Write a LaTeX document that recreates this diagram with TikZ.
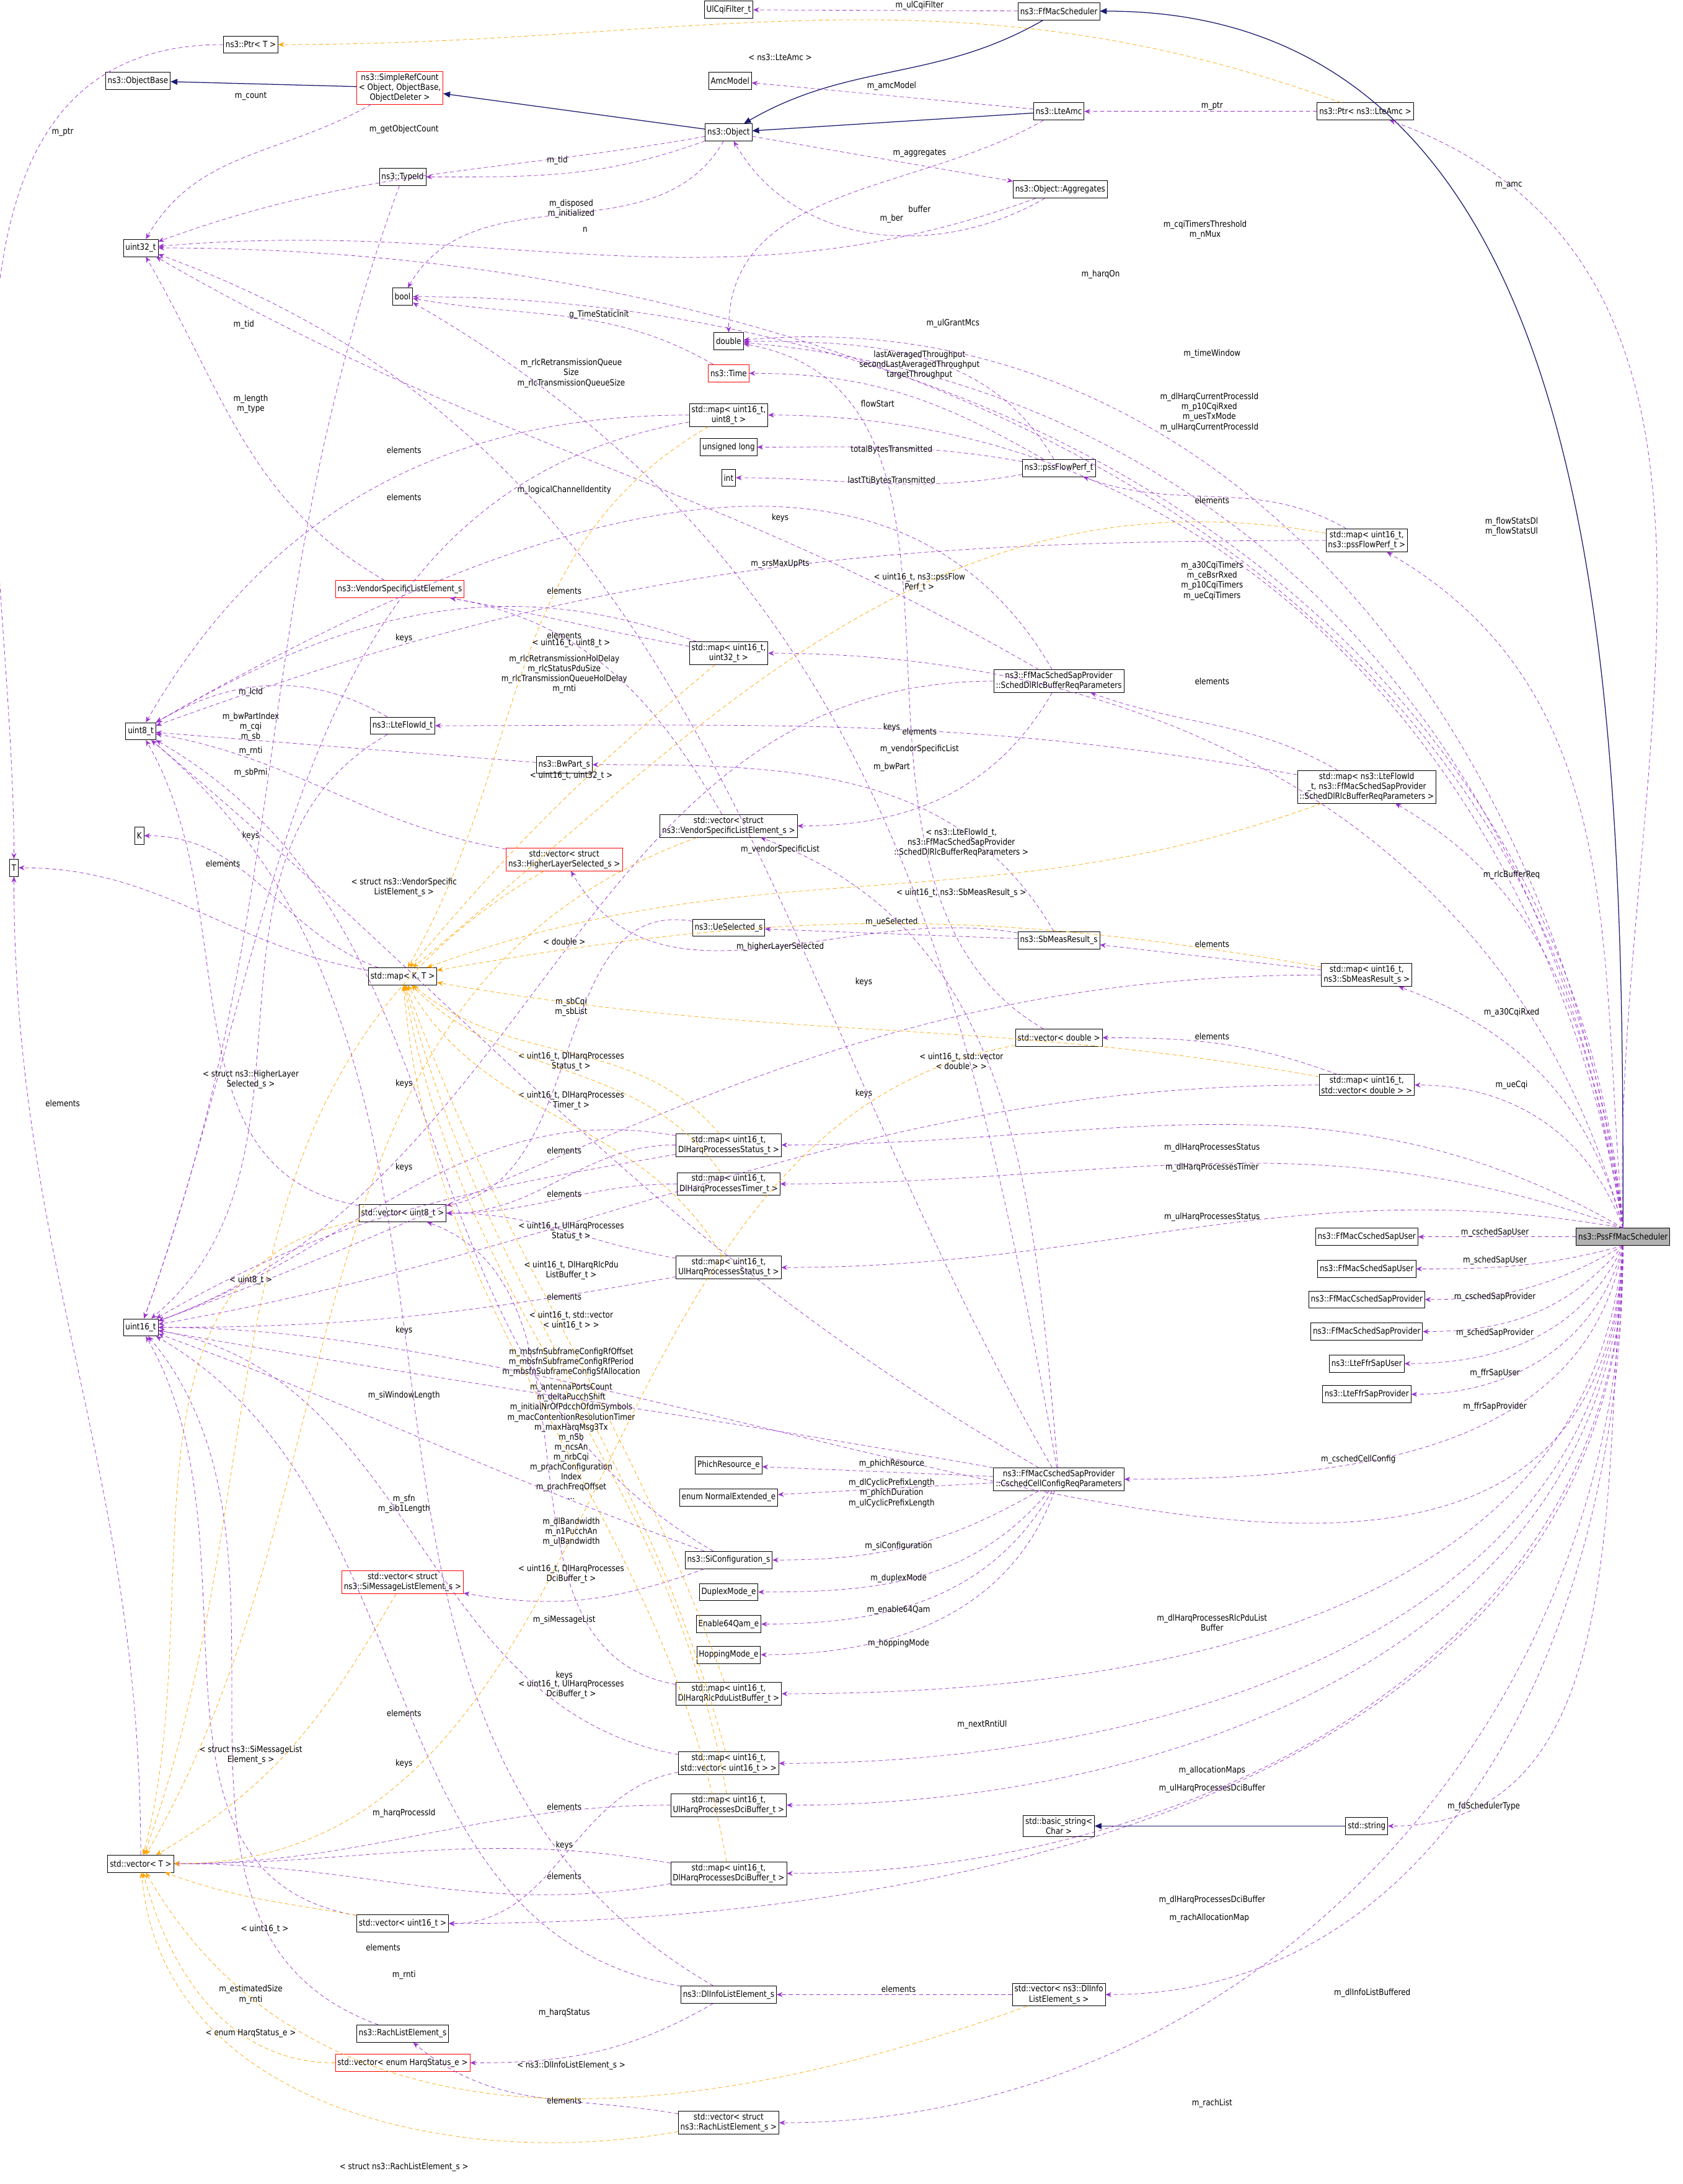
\documentclass[border=0pt]{standalone}
\usepackage{fontspec}
\usepackage{graphicx}
\usepackage{tikz}
\setmainfont{DejaVu Sans}[FakeStretch=0.86]
\usetikzlibrary{arrows.meta}
\definecolor{navyline}{HTML}{191970}
\definecolor{usecol}{HTML}{9A32CD}
\definecolor{tmplcol}{HTML}{FFA500}
\newcommand{\dfont}{\fontsize{2.2}{2.55}\selectfont}
\tikzset{
  cls/.style={draw=black, fill=white, font=\dfont, line width=0.12pt, inner sep=0.55pt, minimum height=0.155cm, align=center},
  redcls/.style={cls, draw=red},
  inh/.style={-{Triangle[length=1.75pt,width=1.5pt]}, draw=navyline, line width=0.2pt},
  usage/.style={-{Stealth[length=1.5pt,width=1.25pt]}, draw=usecol, line width=0.12pt, dash pattern=on 1pt off 0.75pt},
  tmpl/.style={-{Stealth[length=1.5pt,width=1.25pt]}, draw=tmplcol, line width=0.12pt, dash pattern=on 1pt off 0.75pt},
  lbl/.style={font=\dfont, align=center, inner sep=0.1pt}
}
\begin{document}
\scalebox{4}{%
\begin{tikzpicture}[x=0.0125cm,y=-0.0125cm]
\useasboundingbox[fill=white] (0,0) rectangle (1208,1568);

% classes
\node[cls] (ulcqi) at (523,7) {UlCqiFilter\_t};
\node[cls] (ffmac) at (760,8) {ns3::FfMacScheduler};
\node[cls] (ptrT) at (180,32) {ns3::Ptr< T >};
\node[cls] (objbase) at (99,58) {ns3::ObjectBase};
\node[redcls] (srefc) at (287,63) {ns3::SimpleRefCount\\< Object, ObjectBase,\\ObjectDeleter >};
\node[cls] (amcmodel) at (524,58) {AmcModel};
\node[cls] (lteamc) at (760,80) {ns3::LteAmc};
\node[cls] (ptramc) at (980,80) {ns3::Ptr< ns3::LteAmc >};
\node[cls] (object) at (523,95) {ns3::Object};
\node[cls] (typeid) at (289,127) {ns3::TypeId};
\node[cls] (aggr) at (761,136) {ns3::Object::Aggregates};
\node[cls] (u32) at (101,178) {uint32\_t};
\node[cls] (bool) at (289,213) {bool};
\node[cls] (double) at (523,245) {double};
\node[redcls] (time) at (523,268) {ns3::Time};
\node[cls] (mapu8) at (523,298) {std::map< uint16\_t,\\uint8\_t >};
\node[cls] (ulong) at (523,321) {unsigned long};
\node[cls] (int) at (523,343) {int};
\node[cls] (flowperf) at (760,336) {ns3::pssFlowPerf\_t};
\node[cls] (mapflow) at (981,388) {std::map< uint16\_t,\\ns3::pssFlowPerf\_t >};
\node[redcls] (vendor) at (287,423) {ns3::VendorSpecificListElement\_s};
\node[cls] (mapu32) at (523,469) {std::map< uint16\_t,\\uint32\_t >};
\node[cls] (rlcreq) at (760,489) {ns3::FfMacSchedSapProvider\\::SchedDlRlcBufferReqParameters};
\node[cls] (u8) at (101,525) {uint8\_t};
\node[cls] (flowid) at (289,521) {ns3::LteFlowId\_t};
\node[cls] (bwpart) at (405,549) {ns3::BwPart\_s};
\node[cls] (maprlc) at (981,565) {std::map< ns3::LteFlowId\\\_t, ns3::FfMacSchedSapProvider\\::SchedDlRlcBufferReqParameters >};
\node[cls] (vecvendor) at (523,593) {std::vector< struct\\ns3::VendorSpecificListElement\_s >};
\node[cls] (K) at (100,600) {K};
\node[cls] (T) at (10,623) {T};
\node[redcls] (vechigher) at (405,617) {std::vector< struct\\ns3::HigherLayerSelected\_s >};
\node[cls] (uesel) at (523,666) {ns3::UeSelected\_s};
\node[cls] (sbmeas) at (760,675) {ns3::SbMeasResult\_s};
\node[cls] (mapKT) at (289,701) {std::map< K, T >};
\node[cls] (mapsb) at (981,700) {std::map< uint16\_t,\\ns3::SbMeasResult\_s >};
\node[cls] (vecdbl) at (760,745) {std::vector< double >};
\node[cls] (mapvecdbl) at (981,779) {std::map< uint16\_t,\\std::vector< double > >};
\node[cls] (mapdlst) at (523,822) {std::map< uint16\_t,\\DlHarqProcessesStatus\_t >};
\node[cls] (mapdltm) at (523,850) {std::map< uint16\_t,\\DlHarqProcessesTimer\_t >};
\node[cls] (vecu8) at (289,871) {std::vector< uint8\_t >};
\node[cls, fill=black!30] (sched) at (1165,888) {ns3::PssFfMacScheduler};
\node[cls] (cuser) at (981,888) {ns3::FfMacCschedSapUser};
\node[cls] (suser) at (981,911) {ns3::FfMacSchedSapUser};
\node[cls] (cprov) at (981,933) {ns3::FfMacCschedSapProvider};
\node[cls] (sprov) at (981,956) {ns3::FfMacSchedSapProvider};
\node[cls] (ffruser) at (981,979) {ns3::LteFfrSapUser};
\node[cls] (ffrprov) at (981,1001) {ns3::LteFfrSapProvider};
\node[cls] (mapulst) at (523,910) {std::map< uint16\_t,\\UlHarqProcessesStatus\_t >};
\node[cls] (u16) at (101,953) {uint16\_t};
\node[cls] (phich) at (523,1052) {PhichResource\_e};
\node[cls] (normext) at (523,1075) {enum NormalExtended\_e};
\node[cls] (cellcfg) at (760,1062) {ns3::FfMacCschedSapProvider\\::CschedCellConfigReqParameters};
\node[cls] (sicfg) at (523,1120) {ns3::SiConfiguration\_s};
\node[redcls] (vecsimsg) at (289,1136) {std::vector< struct\\ns3::SiMessageListElement\_s >};
\node[cls] (duplex) at (523,1143) {DuplexMode\_e};
\node[cls] (en64) at (523,1166) {Enable64Qam\_e};
\node[cls] (hopping) at (523,1188) {HoppingMode\_e};
\node[cls] (maprlcpdu) at (523,1216) {std::map< uint16\_t,\\DlHarqRlcPduListBuffer\_t >};
\node[cls] (mapvecu16) at (523,1266) {std::map< uint16\_t,\\std::vector< uint16\_t > >};
\node[cls] (mapuldci) at (523,1296) {std::map< uint16\_t,\\UlHarqProcessesDciBuffer\_t >};
\node[cls] (bstring) at (760,1311) {std::basic\_string<\\Char >};
\node[cls] (string) at (981,1311) {std::string};
\node[cls] (vecT) at (101,1338) {std::vector< T >};
\node[cls] (mapdldci) at (523,1345) {std::map< uint16\_t,\\DlHarqProcessesDciBuffer\_t >};
\node[cls] (vecu16) at (289,1381) {std::vector< uint16\_t >};
\node[cls] (dlinfo) at (523,1432) {ns3::DlInfoListElement\_s};
\node[cls] (vecdlinfo) at (760,1432) {std::vector< ns3::DlInfo\\ListElement\_s >};
\node[cls] (rach) at (289,1460) {ns3::RachListElement\_s};
\node[redcls] (vecharq) at (289,1481) {std::vector< enum HarqStatus\_e >};
\node[cls] (vecrach) at (523,1524) {std::vector< struct\\ns3::RachListElement\_s >};

% inheritance
\draw[inh] (sched.north) to[out=90,in=0] (ffmac);
\draw[inh] (ffmac) to[out=-150,in=30] (object);
\draw[inh] (lteamc) to (object);
\draw[inh] (object) to (srefc);
\draw[inh] (srefc) to (objbase);
\draw[inh] (string) to (bstring);

% members of the scheduler
\draw[usage] (sched.north) to[out=92,in=-20] (ptramc);
\node[lbl] at (1083,133) {m\_amc};
\draw[usage] (sched.north) to[out=95,in=0] (bool);
\node[lbl] at (790,197) {m\_harqOn};
\draw[usage] (sched.north) to[out=96,in=0] (u32);
\node[lbl] at (865,165) {m\_cqiTimersThreshold\\m\_nMux};
\draw[usage] (sched.north) to[out=97,in=5] (double);
\node[lbl] at (684,232) {m\_ulGrantMcs};
\draw[usage] (sched.north) to[out=98,in=-5] (double);
\node[lbl] at (870,254) {m\_timeWindow};
\draw[usage] (sched.north) to[out=99,in=0] (mapu8);
\node[lbl] at (868,296) {m\_dlHarqCurrentProcessId\\m\_p10CqiRxed\\m\_uesTxMode\\m\_ulHarqCurrentProcessId};
\draw[usage] (sched.north) to[out=95,in=-30] (mapflow);
\node[lbl] at (1085,378) {m\_flowStatsDl\\m\_flowStatsUl};
\draw[usage] (sched.north) to[out=105,in=0] (mapu32);
\node[lbl] at (870,417) {m\_a30CqiTimers\\m\_ceBsrRxed\\m\_p10CqiTimers\\m\_ueCqiTimers};
\draw[usage] (sched.north) to[out=100,in=-30] (maprlc);
\node[lbl] at (1085,628) {m\_rlcBufferReq};
\draw[usage] (sched.north) to[out=105,in=-20] (mapsb);
\node[lbl] at (1085,727) {m\_a30CqiRxed};
\draw[usage] (sched.north) to[out=110,in=0] (mapvecdbl);
\node[lbl] at (1085,779) {m\_ueCqi};
\draw[usage] (sched.north) to[out=150,in=0] (mapdlst);
\node[lbl] at (870,824) {m\_dlHarqProcessesStatus};
\draw[usage] (sched.north) to[out=160,in=0] (mapdltm);
\node[lbl] at (870,838) {m\_dlHarqProcessesTimer};
\draw[usage] (sched.north) to[out=170,in=0] (mapulst);
\node[lbl] at (870,874) {m\_ulHarqProcessesStatus};
\draw[usage] (sched) to (cuser);
\node[lbl] at (1073,885) {m\_cschedSapUser};
\draw[usage] (sched.south) to[out=-165,in=0] (suser);
\node[lbl] at (1073,905) {m\_schedSapUser};
\draw[usage] (sched.south) to[out=-150,in=0] (cprov);
\node[lbl] at (1073,931) {m\_cschedSapProvider};
\draw[usage] (sched.south) to[out=-130,in=0] (sprov);
\node[lbl] at (1073,957) {m\_schedSapProvider};
\draw[usage] (sched.south) to[out=-115,in=0] (ffruser);
\node[lbl] at (1073,986) {m\_ffrSapUser};
\draw[usage] (sched.south) to[out=-105,in=0] (ffrprov);
\node[lbl] at (1073,1010) {m\_ffrSapProvider};
\draw[usage] (sched.south) to[out=-100,in=0] (cellcfg);
\node[lbl] at (975,1048) {m\_cschedCellConfig};
\draw[usage] (sched.south) to[out=-95,in=0] (maprlcpdu);
\node[lbl] at (870,1165) {m\_dlHarqProcessesRlcPduList\\Buffer};
\draw[usage] (sched.south) to[out=-93,in=0] (u16);
\node[lbl] at (705,1238) {m\_nextRntiUl};
\draw[usage] (sched.south) to[out=-92,in=0] (mapvecu16);
\node[lbl] at (870,1271) {m\_allocationMaps};
\draw[usage] (sched.south) to[out=-91,in=0] (mapuldci);
\node[lbl] at (870,1284) {m\_ulHarqProcessesDciBuffer};
\draw[usage] (sched.south) to[out=-95,in=0] (string);
\node[lbl] at (1065,1297) {m\_fdSchedulerType};
\draw[usage] (sched.south) to[out=-90,in=0] (mapdldci);
\node[lbl] at (870,1364) {m\_dlHarqProcessesDciBuffer};
\draw[usage] (sched.south) to[out=-90,in=0] (vecu16);
\node[lbl] at (868,1377) {m\_rachAllocationMap};
\draw[usage] (sched.south) to[out=-90,in=0] (vecdlinfo);
\node[lbl] at (985,1431) {m\_dlInfoListBuffered};
\draw[usage] (sched.south) to[out=-90,in=0] (vecrach);
\node[lbl] at (870,1510) {m\_rachList};

% other members
\draw[usage] (ffmac) to (ulcqi);
\node[lbl] at (660,4) {m\_ulCqiFilter};
\draw[usage] (ptrT) to[out=180,in=90] (T);
\node[lbl] at (45,95) {m\_ptr};
\draw[usage] (srefc) to[out=-150,in=60] (u32);
\node[lbl] at (180,69) {m\_count};
\draw[usage] (lteamc) to (amcmodel);
\node[lbl] at (640,62) {m\_amcModel};
\draw[usage] (lteamc) to[out=-150,in=90] (double);
\node[lbl] at (640,157) {m\_ber};
\draw[usage] (ptramc) to (lteamc);
\node[lbl] at (870,76) {m\_ptr};
\draw[usage] (object) to[out=-170,in=20] (u32);
\node[lbl] at (290,93) {m\_getObjectCount};
\draw[usage] (object) to[out=-160,in=0] (typeid);
\node[lbl] at (400,115) {m\_tid};
\draw[usage] (object) to[out=-120,in=60] (bool);
\node[lbl] at (410,150) {m\_disposed\\m\_initialized};
\draw[usage] (object) to (aggr);
\node[lbl] at (660,110) {m\_aggregates};
\draw[usage] (aggr) to[out=-150,in=-60] (object);
\node[lbl] at (660,150) {buffer};
\draw[usage] (aggr) to[out=-160,in=5] (u32);
\node[lbl] at (420,165) {n};
\draw[usage] (typeid) to[out=-110,in=70] (u16);
\node[lbl] at (175,233) {m\_tid};
\draw[usage] (time) to[out=150,in=-10] (bool);
\node[lbl] at (430,226) {g\_TimeStaticInit};
\draw[usage] (flowperf) to[out=120,in=0] (double);
\node[lbl] at (660,262) {lastAveragedThroughput\\secondLastAveragedThroughput\\targetThroughput};
\draw[usage] (flowperf) to[out=150,in=0] (time);
\node[lbl] at (630,290) {flowStart};
\draw[usage] (flowperf) to[out=170,in=0] (ulong);
\node[lbl] at (640,323) {totalBytesTransmitted};
\draw[usage] (flowperf) to[out=-170,in=0] (int);
\node[lbl] at (640,345) {lastTtiBytesTransmitted};
\draw[usage] (mapflow) to[out=150,in=-20] (flowperf);
\node[lbl] at (870,359) {elements};
\draw[usage] (mapflow) to[out=180,in=20] (u8);
\node[lbl] at (560,372) {keys};
\draw[usage] (mapu8) to[out=180,in=60] (u8);
\node[lbl] at (290,323) {elements};
\draw[usage] (mapu8) to[out=-170,in=70] (u16);
\node[lbl] at (290,357) {elements};
\draw[usage] (vendor) to[out=150,in=-60] (u32);
\node[lbl] at (180,290) {m\_length\\m\_type};
\draw[usage] (mapu32) to[out=170,in=-10] (vendor);
\node[lbl] at (405,424) {elements};
\draw[usage] (mapu32) to[out=160,in=30] (u8);
\node[lbl] at (290,458) {keys};
\draw[usage] (rlcreq) to[out=150,in=-30] (u32);
\node[lbl] at (410,268) {m\_rlcRetransmissionQueue\\Size\\m\_rlcTransmissionQueueSize};
\draw[usage] (rlcreq) to[out=180,in=20] (u16);
\node[lbl] at (405,484) {m\_rlcRetransmissionHolDelay\\m\_rlcStatusPduSize\\m\_rlcTransmissionQueueHolDelay\\m\_rnti};
\draw[usage] (rlcreq) to[out=120,in=30] (u8);
\node[lbl] at (405,352) {m\_logicalChannelIdentity};
\draw[usage] (rlcreq) to[out=-120,in=0] (vecvendor);
\node[lbl] at (660,538) {m\_vendorSpecificList};
\draw[usage] (flowid) to[out=150,in=30] (u8);
\node[lbl] at (180,497) {m\_lcId};
\draw[usage] (flowid) to[out=-150,in=40] (u16);
\node[lbl] at (180,539) {m\_rnti};
\draw[usage] (bwpart) to (u8);
\node[lbl] at (180,522) {m\_bwPartIndex\\m\_cqi\\m\_sb};
\draw[usage] (vecvendor) to[out=120,in=-10] (vendor);
\node[lbl] at (405,456) {elements};
\draw[usage] (maprlc) to[out=150,in=-20] (rlcreq);
\node[lbl] at (870,489) {elements};
\draw[usage] (maprlc) to[out=170,in=0] (flowid);
\node[lbl] at (640,522) {keys};
\draw[usage] (vechigher) to[out=170,in=-10] (u8);
\node[lbl] at (180,555) {m\_sbPmi};
\draw[usage] (uesel) to[out=170,in=10] (vecu8);
\node[lbl] at (410,723) {m\_sbCqi\\m\_sbList};
\draw[usage] (sbmeas) to (uesel);
\node[lbl] at (640,662) {m\_ueSelected};
\draw[usage] (sbmeas) to[out=120,in=0] (bwpart);
\node[lbl] at (640,551) {m\_bwPart};
\draw[usage] (sbmeas) to[out=170,in=-60] (vechigher);
\node[lbl] at (560,680) {m\_higherLayerSelected};
\draw[usage] (mapsb) to (sbmeas);
\node[lbl] at (870,678) {elements};
\draw[usage] (mapsb) to[out=180,in=20] (u16);
\node[lbl] at (620,705) {keys};
\draw[usage] (vecdbl) to[out=150,in=-10] (double);
\node[lbl] at (660,525) {elements};
\draw[usage] (mapvecdbl) to[out=160,in=0] (vecdbl);
\node[lbl] at (870,744) {elements};
\draw[usage] (mapvecdbl) to[out=180,in=10] (u16);
\node[lbl] at (620,785) {keys};
\draw[usage] (mapKT) to[out=160,in=0] (K);
\node[lbl] at (180,600) {keys};
\draw[usage] (mapKT) to[out=170,in=0] (T);
\node[lbl] at (160,620) {elements};
\draw[usage] (vecT) to[out=90,in=-90] (T);
\node[lbl] at (45,792) {elements};
\draw[usage] (vecu8) to[out=170,in=-60] (u8);
\draw[usage] (vecu16) to[out=170,in=-60] (u16);
\node[lbl] at (275,1398) {elements};
\draw[usage] (mapdlst) to[out=180,in=0] (vecu8);
\node[lbl] at (405,826) {elements};
\draw[usage] (mapdlst) to[out=170,in=20] (u16);
\node[lbl] at (290,778) {keys};
\draw[usage] (mapdltm) to[out=180,in=0] (vecu8);
\node[lbl] at (405,857) {elements};
\draw[usage] (mapulst) to[out=170,in=0] (vecu8);
\node[lbl] at (405,931) {elements};
\draw[usage] (mapulst) to[out=-170,in=0] (u16);
\node[lbl] at (290,955) {keys};
\draw[usage] (mapdlst) to[out=-170,in=30] (u16);
\node[lbl] at (290,838) {keys};
\draw[usage] (cellcfg) to (phich);
\node[lbl] at (640,1051) {m\_phichResource};
\draw[usage] (cellcfg) to (normext);
\node[lbl] at (640,1072) {m\_dlCyclicPrefixLength\\m\_phichDuration\\m\_ulCyclicPrefixLength};
\draw[usage] (cellcfg) to[out=-150,in=0] (sicfg);
\node[lbl] at (645,1110) {m\_siConfiguration};
\draw[usage] (cellcfg) to[out=-130,in=0] (duplex);
\node[lbl] at (645,1133) {m\_duplexMode};
\draw[usage] (cellcfg) to[out=-120,in=0] (en64);
\node[lbl] at (645,1156) {m\_enable64Qam};
\draw[usage] (cellcfg) to[out=-110,in=0] (hopping);
\node[lbl] at (645,1180) {m\_hoppingMode};
\draw[usage] (cellcfg) to[out=150,in=-40] (u8);
\node[lbl] at (410,1035) {m\_antennaPortsCount\\m\_deltaPucchShift\\m\_initialNrOfPdcchOfdmSymbols\\m\_macContentionResolutionTimer\\m\_maxHarqMsg3Tx\\m\_nSb\\m\_ncsAn\\m\_nrbCqi\\m\_prachConfiguration\\Index\\m\_prachFreqOffset\\...};
\draw[usage] (cellcfg) to[out=170,in=-10] (u16);
\node[lbl] at (410,1100) {m\_dlBandwidth\\m\_n1PucchAn\\m\_ulBandwidth};
\draw[usage] (cellcfg) to[out=120,in=-20] (u32);
\node[lbl] at (410,978) {m\_mbsfnSubframeConfigRfOffset\\m\_mbsfnSubframeConfigRfPeriod\\m\_mbsfnSubframeConfigSfAllocation};
\draw[usage] (cellcfg) to[out=100,in=-30] (bool);
\node[lbl] at (560,405) {m\_srsMaxUpPts};
\draw[usage] (cellcfg) to[out=95,in=-20] (vecvendor);
\node[lbl] at (560,610) {m\_vendorSpecificList};
\draw[usage] (sicfg) to[out=-160,in=-10] (vecsimsg);
\node[lbl] at (405,1163) {m\_siMessageList};
\draw[usage] (sicfg) to[out=160,in=-20] (u16);
\node[lbl] at (290,1080) {m\_sfn\\m\_sib1Length};
\draw[usage] (sicfg) to[out=150,in=-30] (u8);
\node[lbl] at (290,1002) {m\_siWindowLength};
\draw[usage] (maprlcpdu) to[out=170,in=-20] (vecu8);
\node[lbl] at (405,1203) {keys};
\draw[usage] (mapvecu16) to[out=-170,in=0] (vecu16);
\node[lbl] at (405,1297) {elements};
\draw[usage] (mapvecu16) to[out=170,in=-10] (u16);
\node[lbl] at (290,1266) {keys};
\draw[usage] (mapuldci) to[out=180,in=0] (vecT);
\node[lbl] at (290,1230) {elements};
\draw[usage] (mapdldci) to[out=170,in=0] (vecT);
\node[lbl] at (405,1325) {keys};
\draw[usage] (mapdldci) to[out=-170,in=0] (vecT);
\node[lbl] at (405,1347) {elements};
\draw[usage] (dlinfo) to[out=170,in=-30] (u16);
\node[lbl] at (290,1418) {m\_rnti};
\draw[usage] (dlinfo) to[out=150,in=-40] (u8);
\node[lbl] at (290,1302) {m\_harqProcessId};
\draw[usage] (dlinfo) to[out=-150,in=0] (vecharq);
\node[lbl] at (405,1445) {m\_harqStatus};
\draw[usage] (vecdlinfo) to (dlinfo);
\node[lbl] at (645,1428) {elements};
\draw[usage] (rach) to[out=160,in=-50] (u16);
\node[lbl] at (180,1432) {m\_estimatedSize\\m\_rnti};
\draw[usage] (vecrach) to[out=170,in=-40] (rach);
\node[lbl] at (405,1508) {elements};

% template instances
\draw[tmpl] (ptramc) to[out=160,in=0] (ptrT);
\node[lbl] at (560,41) {< ns3::LteAmc >};
\draw[tmpl] (mapu8) to[out=-150,in=60] (mapKT);
\node[lbl] at (410,462) {< uint16\_t, uint8\_t >};
\draw[tmpl] (mapflow) to[out=170,in=40] (mapKT);
\node[lbl] at (660,418) {< uint16\_t, ns3::pssFlow\\Perf\_t >};
\draw[tmpl] (mapu32) to[out=-140,in=50] (mapKT);
\node[lbl] at (410,557) {< uint16\_t, uint32\_t >};
\draw[tmpl] (maprlc) to[out=-160,in=20] (mapKT);
\node[lbl] at (690,605) {< ns3::LteFlowId\_t,\\ns3::FfMacSchedSapProvider\\::SchedDlRlcBufferReqParameters >};
\draw[tmpl] (mapsb) to[out=170,in=10] (mapKT);
\node[lbl] at (690,641) {< uint16\_t, ns3::SbMeasResult\_s >};
\draw[tmpl] (vecdbl) to[out=-170,in=0] (vecT);
\node[lbl] at (405,676) {< double >};
\draw[tmpl] (mapvecdbl) to[out=170,in=-10] (mapKT);
\node[lbl] at (690,762) {< uint16\_t, std::vector\\< double > >};
\draw[tmpl] (mapdlst) to[out=130,in=-40] (mapKT);
\node[lbl] at (410,762) {< uint16\_t, DlHarqProcesses\\Status\_t >};
\draw[tmpl] (mapdltm) to[out=125,in=-45] (mapKT);
\node[lbl] at (410,790) {< uint16\_t, DlHarqProcesses\\Timer\_t >};
\draw[tmpl] (mapulst) to[out=120,in=-60] (mapKT);
\node[lbl] at (410,884) {< uint16\_t, UlHarqProcesses\\Status\_t >};
\draw[tmpl] (maprlcpdu) to[out=110,in=-70] (mapKT);
\node[lbl] at (410,912) {< uint16\_t, DlHarqRlcPdu\\ListBuffer\_t >};
\draw[tmpl] (mapvecu16) to[out=105,in=-75] (mapKT);
\node[lbl] at (410,948) {< uint16\_t, std::vector\\< uint16\_t > >};
\draw[tmpl] (mapuldci) to[out=100,in=-80] (mapKT);
\node[lbl] at (410,1213) {< uint16\_t, UlHarqProcesses\\DciBuffer\_t >};
\draw[tmpl] (mapdldci) to[out=100,in=-85] (mapKT);
\node[lbl] at (410,1130) {< uint16\_t, DlHarqProcesses\\DciBuffer\_t >};
\draw[tmpl] (vecvendor) to[out=-160,in=60] (vecT);
\node[lbl] at (290,637) {< struct ns3::VendorSpecific\\ListElement\_s >};
\draw[tmpl] (vechigher) to[out=-150,in=70] (vecT);
\node[lbl] at (180,775) {< struct ns3::HigherLayer\\Selected\_s >};
\draw[tmpl] (vecu8) to[out=-170,in=75] (vecT);
\node[lbl] at (180,919) {< uint8\_t >};
\draw[tmpl] (vecsimsg) to[out=-120,in=30] (vecT);
\node[lbl] at (180,1260) {< struct ns3::SiMessageList\\Element\_s >};
\draw[tmpl] (vecu16) to[out=170,in=-20] (vecT);
\node[lbl] at (190,1385) {< uint16\_t >};
\draw[tmpl] (vecdlinfo) to[out=-160,in=-60] (vecT);
\node[lbl] at (410,1483) {< ns3::DlInfoListElement\_s >};
\draw[tmpl] (vecharq) to[out=180,in=-75] (vecT);
\node[lbl] at (180,1460) {< enum HarqStatus\_e >};
\draw[tmpl] (vecrach) to[out=-170,in=-85] (vecT);
\node[lbl] at (290,1556) {< struct ns3::RachListElement\_s >};
\end{tikzpicture}}
\end{document}
